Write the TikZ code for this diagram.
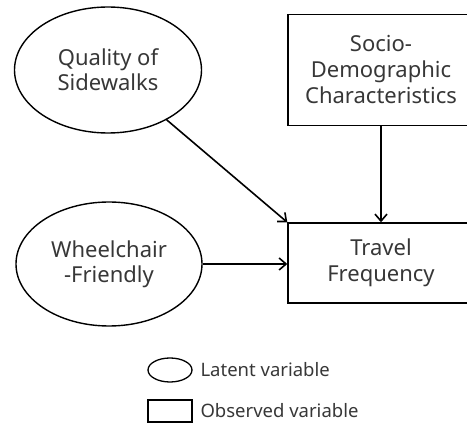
\documentclass[tikz,border=0pt]{standalone}
\usepackage{fontspec}
\setmainfont{Noto Sans}
\usetikzlibrary{shapes.geometric, arrows.meta}
\definecolor{txtgray}{RGB}{55,55,55}

\begin{document}
\begin{tikzpicture}[x=1pt, y=-1pt,
        latent/.style={ellipse, draw, line width=1.4pt, inner sep=0pt, align=center, text=txtgray,
            font=\fontsize{22}{25}\selectfont},
        observed/.style={rectangle, draw, line width=1.4pt, inner sep=0pt, align=center, text=txtgray,
            font=\fontsize{22}{26}\selectfont},
        legtext/.style={right, text=txtgray, font=\fontsize{18.5}{21}\selectfont},
        arr/.style={-{Straight Barb[length=7pt, width=12pt]}, line width=1.6pt}]
        \useasboundingbox (0,0) rectangle (467,425);
        % latent variables
        \node[latent, minimum width=187pt, minimum height=126pt] (quality) at (108,70) {Quality of\\Sidewalks};
        \node[latent, minimum width=186pt, minimum height=124pt] (wheel) at (109,264) {Wheelchair\\-Friendly};
        % observed variables
        \node[observed, minimum width=186pt, minimum height=111pt] (socio) at (381,70) {Socio-\\Demographic\\Characteristics};
        \node[observed, minimum width=186pt, minimum height=80pt] (travel) at (381,263) {Travel\\Frequency};
        % paths
        \draw[arr] (quality) -- (travel.north west);
        \draw[arr] (socio) -- (travel);
        \draw[arr] (wheel.east) -- (wheel.east -| travel.west);
        % legend
        \node[ellipse, draw, line width=1.3pt, minimum width=44pt, minimum height=24pt, inner sep=0pt] (legell) at (170,370) {};
        \node[rectangle, draw, line width=1.3pt, minimum width=44pt, minimum height=22pt, inner sep=0pt] (legbox) at (170,411) {};
        \node[legtext] (leglat) at (197,370) {Latent variable};
        \node[legtext] (legobs) at (197,411) {Observed variable};
    \end{tikzpicture}
\end{document}
